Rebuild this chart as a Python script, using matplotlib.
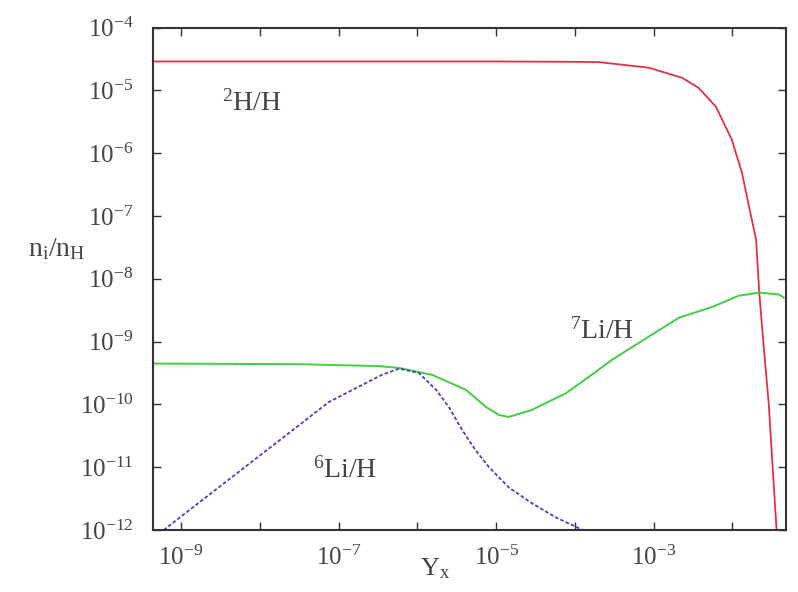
import numpy as np
import matplotlib
matplotlib.use('Agg')
import matplotlib.pyplot as plt
from matplotlib.ticker import FixedLocator, FuncFormatter, NullLocator

plt.rcParams['font.family'] = ['Liberation Serif', 'DejaVu Serif']
plt.rcParams['mathtext.fontset'] = 'custom'
plt.rcParams['mathtext.rm'] = 'Liberation Serif'
plt.rcParams['mathtext.it'] = 'Liberation Serif:italic'

# log10 values
h2_logx = [-9.36, -7.0, -5.0, -4.2, -3.70, -3.06, -2.64, -2.43, -2.21, -2.01,
           -1.88, -1.79, -1.70, -1.66, -1.60, -1.54, -1.49, -1.44]
h2_logy = [-4.54, -4.54, -4.54, -4.545, -4.55, -4.64, -4.80, -4.96, -5.26, -5.78,
           -6.31, -6.85, -7.38, -8.22, -9.13, -9.98, -11.0, -12.0]

li7_logx = [-9.36, -7.50, -6.49, -6.23, -5.81, -5.38, -5.13, -4.96, -4.84, -4.55,
            -4.11, -3.70, -3.53, -2.68, -2.26, -1.92, -1.66, -1.41, -1.35]
li7_logy = [-9.35, -9.36, -9.39, -9.42, -9.53, -9.77, -10.04, -10.17, -10.20, -10.09,
            -9.82, -9.45, -9.29, -8.62, -8.45, -8.27, -8.22, -8.25, -8.30]

li6_logx = [-9.22, -7.50, -7.12, -6.70, -6.45, -6.23, -5.98, -5.76, -5.60, -5.43,
            -5.26, -5.09, -4.84, -4.55, -4.24, -3.90]
li6_logy = [-12.0, -10.33, -9.96, -9.69, -9.53, -9.43, -9.50, -9.77, -10.04, -10.41,
            -10.73, -11.00, -11.32, -11.57, -11.80, -12.0]

fig = plt.figure(figsize=(7.98, 5.92), dpi=100)
ax = fig.add_axes([0.1917, 0.1047, 0.7933, 0.8488])

ax.plot(10 ** np.array(h2_logx), 10 ** np.array(h2_logy), color='#dd3344', lw=1.3)
ax.plot(10 ** np.array(li7_logx), 10 ** np.array(li7_logy), color='#44cc44', lw=1.4)
ax.plot(10 ** np.array(li6_logx), 10 ** np.array(li6_logy), color='#4444bb', lw=1.3,
        linestyle=(0, (2, 1.2)))

ax.set_xscale('log')
ax.set_yscale('log')
ax.set_xlim(10 ** -9.355, 10 ** -1.32)
ax.set_ylim(1e-12, 1e-4)

ax.xaxis.set_major_locator(FixedLocator([10.0 ** e for e in range(-9, -1)]))
ax.xaxis.set_minor_locator(NullLocator())
ax.yaxis.set_major_locator(FixedLocator([10.0 ** e for e in range(-12, -3)]))
ax.yaxis.set_minor_locator(NullLocator())

def xfmt(v, pos):
    e = int(round(np.log10(v)))
    return r'$10^{%d}$' % e if e % 2 else ''

ax.xaxis.set_major_formatter(FuncFormatter(xfmt))
ax.yaxis.set_major_formatter(FuncFormatter(lambda v, pos: r'$10^{%d}$' % int(round(np.log10(v)))))

ax.tick_params(which='major', direction='in', length=6, width=1, color='#333333',
               top=True, right=True, labelsize=18, labelcolor='#444444')
ax.tick_params(axis='x', pad=11)
ax.tick_params(axis='y', pad=14)
for s in ax.spines.values():
    s.set_color('#333333')
    s.set_linewidth(1.5)

ax.set_xlabel(r'$\mathrm{Y_x}$', fontsize=19, color='#444444', va='top')
ax.xaxis.set_label_coords(0.445, -0.052)
ax.set_ylabel(r'$\mathrm{n_i/n_H}$', fontsize=20, color='#444444', rotation=0,
              ha='center', va='center')
ax.yaxis.set_label_coords(-0.152, 0.558)

ax.text(10 ** -8.1, 10 ** -5.2, r'$^{2}$H/H', fontsize=20, color='#444444', ha='center', va='center')
ax.text(10 ** -3.65, 10 ** -8.83, r'$^{7}$Li/H', fontsize=20, color='#444444', ha='center', va='center')
ax.text(10 ** -6.92, 10 ** -11.05, r'$^{6}$Li/H', fontsize=20, color='#444444', ha='center', va='center')

fig.savefig('out.png', dpi=100)
